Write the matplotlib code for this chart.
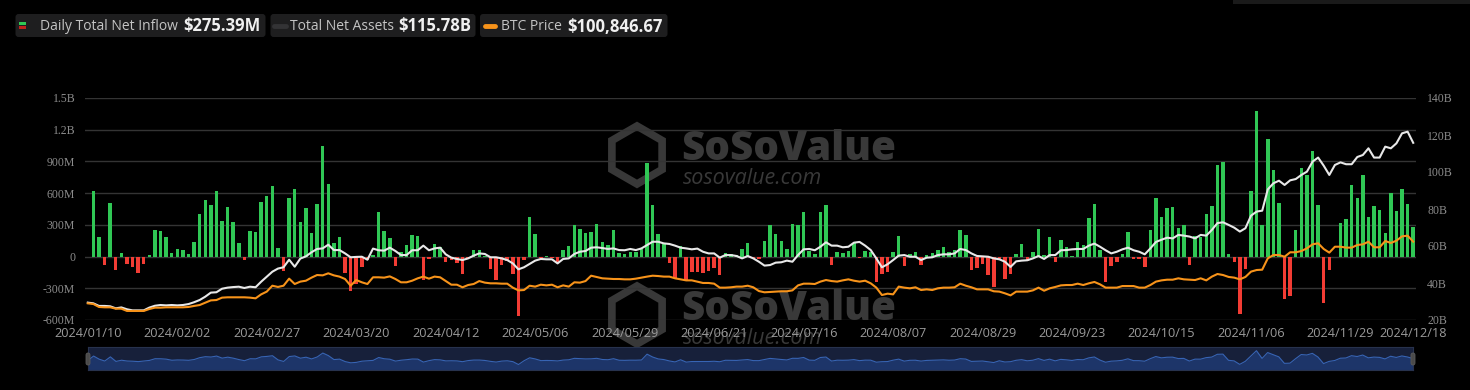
import matplotlib
matplotlib.use('Agg')
import matplotlib.pyplot as plt
from matplotlib.patches import FancyBboxPatch, RegularPolygon
import numpy as np

W, H = 1470, 390

# daily total net inflow, $M (one value per trading day, 2024/01/10 .. 2024/12/18)
inflow_m = [
    0, 625, 183, -76, 510, -129, 38, -72, -101, -154,
    -72, 13, 249, 242, 189, 35, 76, 63, 28, 139,
    400, 535, 488, 623, 334, 469, 324, 129, -28, 246,
    230, 513, 573, 667, 82, -132, 554, 639, 324, 463,
    220, 497, 1045, 684, 132, 189, -154, -326, -262, -94,
    -36, 15, 418, 243, 179, -86, 40, 113, 208, 195,
    -224, -19, 123, 90, -55, -37, -58, -165, -10, 60,
    62, 5, -121, -218, -82, -40, -162, -564, -32, 378,
    217, -15, 5, -10, -60, 60, 100, 303, 257, 222,
    237, 306, 140, 107, 252, 35, 22, 44, 41, 69,
    887, 488, 218, 131, -65, -200, 101, -226, -145, -146,
    -152, -140, -106, -175, 31, 22, 12, 73, 130, -14,
    -20, 143, 295, 216, 145, 76, 310, 301, 422, 53,
    25, 420, 485, -78, 44, 31, 51, 124, -18, 50,
    44, -237, -168, -149, 45, 192, -90, 28, 39, -81,
    11, 33, 62, 88, 39, 65, 252, 203, -127, -105,
    -72, -176, -288, -37, -211, -168, 29, 117, -43, 39,
    263, 13, 187, -53, 158, 93, 5, 136, 106, 366,
    494, 61, -243, -92, -54, 26, 235, -19, -25, -100,
    254, 556, 371, 459, 471, 274, 294, -79, 192, 188,
    402, 479, 870, 893, 28, -55, -541, -117, 622, 1376,
    294, 1114, 818, 510, -401, -371, 255, 837, 773, 1000,
    490, -435, -123, 0, 320, 354, 676, 557, 767, 376,
    479, 439, 223, 597, 429, 637, 494, 275.39,
]

# total net assets, $B
total_assets_b = [
    29.4, 29.0, 27.6, 27.6, 27.4, 26.3, 26.8, 25.8, 25.2, 25.2,
    25.2, 26.7, 27.7, 28.1, 27.9, 28.1, 27.9, 28.1, 28.6, 29.6,
    30.8, 32.6, 34.8, 35.0, 36.9, 37.5, 37.8, 38.0, 37.3, 38.0,
    37.7, 40.7, 43.4, 46.1, 47.8, 48.5, 52.6, 48.8, 53.2, 54.4,
    56.6, 58.4, 58.7, 60.7, 57.8, 57.8, 56.0, 53.9, 54.1, 54.2,
    52.6, 58.6, 57.7, 57.5, 59.1, 57.3, 55.1, 55.1, 57.7, 57.7,
    60.2, 57.7, 58.7, 59.1, 55.5, 53.7, 53.0, 52.4, 53.3, 54.8,
    56.0, 55.7, 53.9, 53.9, 53.3, 52.4, 50.6, 47.4, 48.5, 50.3,
    52.1, 53.0, 52.8, 52.8, 50.6, 53.0, 53.3, 55.7, 56.9, 57.3,
    59.1, 59.3, 58.9, 58.4, 58.7, 57.8, 57.7, 58.4, 57.8, 58.7,
    60.5, 62.3, 62.3, 61.4, 61.1, 60.2, 59.1, 58.7, 58.2, 58.6,
    56.9, 56.0, 56.0, 53.7, 55.1, 55.1, 54.6, 53.3, 54.6, 53.3,
    51.5, 49.4, 49.7, 51.0, 51.2, 52.1, 51.5, 55.1, 58.2, 58.4,
    57.7, 59.6, 62.0, 60.2, 60.2, 59.3, 59.6, 61.8, 62.2, 60.2,
    57.8, 53.3, 48.5, 50.1, 52.4, 54.8, 55.1, 54.2, 54.2, 52.4,
    53.7, 53.9, 55.1, 55.5, 55.5, 56.0, 58.4, 57.8, 56.0, 54.6,
    54.4, 54.2, 53.3, 52.8, 51.5, 48.7, 51.7, 52.1, 52.3, 53.3,
    54.6, 53.0, 55.1, 55.1, 57.7, 57.8, 58.2, 58.4, 58.4, 60.2,
    61.3, 59.6, 57.7, 56.0, 56.9, 58.2, 59.1, 57.7, 56.9, 55.5,
    58.7, 62.2, 63.4, 64.5, 64.1, 66.0, 65.6, 65.1, 64.1, 66.0,
    65.6, 68.7, 72.4, 72.8, 71.4, 69.9, 67.8, 69.6, 76.4, 78.6,
    79.1, 90.6, 93.9, 95.3, 93.0, 95.5, 96.2, 98.4, 100.2, 105.6,
    107.8, 103.4, 98.4, 103.8, 105.2, 104.2, 104.2, 108.1, 109.2, 112.8,
    107.8, 107.8, 113.7, 112.8, 115.5, 120.9, 121.8, 115.78,
]

# BTC price, $K
btc_price_k = [
    46.6, 46.0, 43.4, 43.1, 43.1, 41.9, 41.9, 39.9, 39.9, 39.9,
    39.9, 41.6, 42.8, 42.8, 43.1, 43.1, 43.1, 43.1, 43.4, 44.3,
    45.1, 47.2, 49.2, 49.5, 51.6, 51.9, 51.9, 51.9, 51.9, 51.6,
    51.0, 54.5, 56.9, 62.1, 61.0, 62.1, 68.3, 63.6, 65.7, 66.5,
    69.2, 71.5, 71.2, 73.0, 71.2, 70.1, 68.0, 62.1, 67.1, 65.1,
    63.6, 69.5, 69.5, 69.2, 70.3, 68.0, 65.1, 65.1, 66.5, 68.6,
    70.1, 68.3, 70.1, 69.5, 66.2, 63.0, 63.0, 60.7, 62.7, 63.6,
    66.2, 64.8, 64.2, 64.2, 63.9, 63.9, 60.4, 58.0, 58.3, 62.1,
    61.3, 63.0, 62.4, 63.0, 60.7, 62.4, 61.3, 65.1, 64.8, 66.2,
    70.9, 69.8, 68.6, 68.3, 68.0, 68.0, 67.7, 67.7, 68.3, 69.2,
    70.1, 70.9, 70.6, 70.1, 70.1, 68.6, 67.7, 66.8, 66.8, 65.7,
    64.5, 64.5, 63.9, 60.4, 60.4, 60.7, 61.3, 61.3, 62.1, 60.7,
    57.4, 56.3, 56.6, 56.9, 57.2, 57.2, 58.0, 62.4, 63.9, 63.9,
    63.6, 65.7, 67.1, 66.2, 65.7, 66.8, 67.7, 66.5, 65.7, 66.5,
    64.2, 60.4, 53.9, 55.1, 54.5, 61.3, 60.4, 59.8, 60.7, 58.3,
    58.9, 58.3, 59.8, 60.4, 60.4, 60.7, 63.9, 62.1, 60.7, 58.9,
    58.9, 58.9, 57.2, 56.9, 55.4, 53.6, 56.9, 56.9, 56.9, 58.0,
    60.4, 57.7, 59.8, 61.0, 62.4, 62.7, 62.7, 63.9, 62.7, 64.2,
    65.4, 63.3, 60.4, 60.4, 60.4, 61.8, 61.8, 61.8, 60.4, 60.4,
    62.7, 65.7, 66.8, 67.4, 67.4, 68.6, 67.7, 67.4, 67.1, 68.6,
    66.8, 70.1, 72.4, 71.5, 69.8, 69.2, 67.7, 69.8, 74.5, 75.9,
    76.2, 86.2, 89.1, 89.1, 87.6, 91.5, 91.5, 92.6, 95.0, 98.5,
    99.4, 94.4, 91.2, 96.4, 96.4, 95.6, 95.6, 97.9, 98.5, 100.8,
    95.9, 95.9, 101.4, 99.7, 101.7, 105.5, 106.1, 100.84667,
]

tick_labels = ['2024/01/10', '2024/02/02', '2024/02/27', '2024/03/20', '2024/04/12',
               '2024/05/06', '2024/05/29', '2024/06/21', '2024/07/16', '2024/08/07',
               '2024/08/29', '2024/09/23', '2024/10/15', '2024/11/06', '2024/11/29',
               '2024/12/18']
left_ticks = [-600, -300, 0, 300, 600, 900, 1200, 1500]
left_labels = ['-600M', '-300M', '0', '300M', '600M', '900M', '1.2B', '1.5B']
right_ticks = [20, 40, 60, 80, 100, 120, 140]

legend_names = ['Daily Total Net Inflow', 'Total Net Assets', 'BTC Price']
legend_values = ['$275.39M', '$115.78B', '$100,846.67']

GREEN = '#30c755'
RED = '#f23c34'
ORANGE = '#f7931a'
WHITE = '#e8e8e8'
AXIS_TXT = '#8c8c8c'


def fx(px):
    return px / W


def fy(py):
    return 1 - py / H


fig = plt.figure(figsize=(W / 100, H / 100), dpi=100, facecolor='black')

# watermark layer (behind the chart)
bg = fig.add_axes([0, 0, 1, 1], zorder=-1)
bg.set_xlim(0, W)
bg.set_ylim(H, 0)
bg.axis('off')
for cy in (155, 315):
    bg.add_patch(RegularPolygon((637, cy), 6, radius=29, orientation=0,
                                fill=False, ec='#383838', lw=5.5))
    bg.text(681, cy - 6, 'SoSoValue', fontsize=29, fontweight='heavy', family='Open Sans',
            color='#393939', va='center', ha='left')
    bg.text(683, cy + 23, 'sosovalue.com', fontsize=15.5, style='italic', family='Open Sans',
            color='#393939', va='center', ha='left')
# dark strip at the top right corner
bg.add_patch(plt.Rectangle((1233, 0), 240, 4, fc='#1a1a1a', ec='none'))

# main chart
ax = fig.add_axes([fx(85), fy(320), fx(1416) - fx(85), fy(98) - fy(320)])
ax.set_facecolor('none')
x = np.arange(len(inflow_m))
colors = [GREEN if v >= 0 else RED for v in inflow_m]
ax.bar(x, inflow_m, width=0.62, color=colors, zorder=2)
ax.set_xlim(-0.5, len(x) - 0.5)
ax.set_ylim(-600, 1500)
ax.set_yticks(left_ticks)
ax.set_yticklabels(left_labels, family='Liberation Serif', fontsize=8.5, color=AXIS_TXT)
ax.grid(axis='y', color='#343434', lw=1)
ax.set_axisbelow(True)
for s in ax.spines.values():
    s.set_visible(False)
ax.tick_params(axis='y', length=0, pad=7)
ticks = list(range(0, len(x), 16)) + [len(x) - 1]
ax.set_xticks(ticks)
ax.set_xticklabels(tick_labels, family='Open Sans', fontsize=9.2, color='#9a9a9a')
ax.tick_params(axis='x', length=0, pad=5)

ax2 = ax.twinx()
ax2.plot(x, total_assets_b, color=WHITE, lw=1.5, zorder=3)
ax2.set_ylim(20, 140)
ax2.set_yticks(right_ticks)
ax2.set_yticklabels([f'{t}B' for t in right_ticks], family='Liberation Serif',
                    fontsize=8.5, color=AXIS_TXT)
ax2.tick_params(axis='y', length=0, pad=8)
for s in ax2.spines.values():
    s.set_visible(False)

ax3 = ax.twinx()
ax3.plot(x, btc_price_k, color=ORANGE, lw=1.5, zorder=3)
ax3.set_ylim(31.94, 227.2)
ax3.axis('off')

# range slider at the bottom
sl = fig.add_axes([fx(88), fy(370), fx(1413) - fx(88), fy(347) - fy(370)])
sl.set_facecolor('#17203a')
sl.fill_between(x, inflow_m, -1332, color='#1d3569', lw=0)
sl.plot(x, inflow_m, color='#3764b4', lw=0.8)
sl.set_xlim(0, len(x) - 1)
sl.set_ylim(-1332, 1894)
sl.set_xticks([])
sl.set_yticks([])
for s in sl.spines.values():
    s.set_color('#27324d')
    s.set_linewidth(0.8)

# overlay: legend boxes and slider handles
ov = fig.add_axes([0, 0, 1, 1], zorder=5)
ov.set_xlim(0, W)
ov.set_ylim(H, 0)
ov.axis('off')
for hx in (88, 1413):
    ov.add_patch(FancyBboxPatch((hx - 2, 353), 4, 12, boxstyle='round,pad=0,rounding_size=2',
                                fc='#4a4a4a', ec='#5a5a5a', lw=0.6))

boxes = [(15.5, 250), (270.5, 205), (480, 187.5)]
for (bx, bw) in boxes:
    ov.add_patch(FancyBboxPatch((bx, 14), bw, 23, boxstyle='round,pad=0,rounding_size=3',
                                fc='#1e1e1f', ec='none'))

# icons
ov.add_patch(plt.Rectangle((19, 21.7), 7, 3.8, fc=GREEN, ec='none'))
ov.add_patch(plt.Rectangle((19, 25.5), 7, 3.8, fc='#c0221c', ec='none'))
ov.plot([274, 286], [26, 26], color='#333335', lw=3.5, solid_capstyle='round')
ov.plot([485, 495], [26, 26], color=ORANGE, lw=3.5, solid_capstyle='round')

label_x = [40, 290, 501]
value_x = [183, 398.5, 567]
for name, val, lx, vx in zip(legend_names, legend_values, label_x, value_x):
    ov.text(lx, 26.5, name, fontsize=10, family='Open Sans', color='#c4c4c4',
            va='center', ha='left')
    ov.text(vx, 26.5, val, fontsize=12, family='Open Sans', fontweight='bold',
            color='#f0f0f0', va='center', ha='left')

fig.savefig('out.png', dpi=100, facecolor='black')
